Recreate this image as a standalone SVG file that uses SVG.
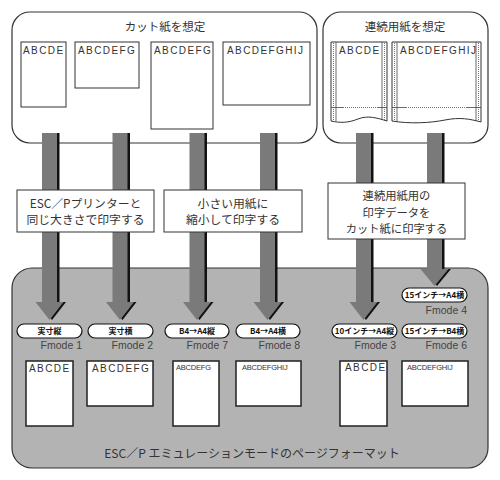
<svg xmlns="http://www.w3.org/2000/svg" width="500" height="480" viewBox="0 0 500 480">
<defs>
<style>
.frame{fill:#fff;stroke:#333;stroke-width:1.2}
.paper{fill:#fff;stroke:#333;stroke-width:1}
.bpaper{fill:#fff;stroke:#222;stroke-width:1.5}
.abc{font-family:"Liberation Sans",Arial,sans-serif;font-size:10px;fill:#333;letter-spacing:1.4px}
.abcs{font-family:"Liberation Sans",Arial,sans-serif;font-size:7.5px;fill:#333;letter-spacing:-0.2px}
.jp{font-family:"Noto Sans CJK JP","Noto Sans",sans-serif;fill:#333}
.title{font-size:11.5px;text-anchor:middle}
.lbl{font-size:11.8px;text-anchor:middle}
.pill{fill:#fff;stroke:#111;stroke-width:1.2}
.pt{font-family:"Noto Sans CJK JP","Noto Sans",sans-serif;font-size:8px;font-weight:bold;fill:#111;text-anchor:middle}
.fm{font-family:"Liberation Sans",Arial,sans-serif;font-size:10.5px;fill:#444;text-anchor:end}
.shaft{fill:#7a7a7a}
.shadow{fill:#111}
.perf{stroke:#555;stroke-width:0.8;stroke-dasharray:1 1;fill:none}
.ln{stroke:#444;stroke-width:0.8;fill:none}
</style>
</defs>

<g id="cut-paper-group">
<rect class="frame" x="12" y="12" width="305" height="131" rx="18"/>
<text class="jp title" x="165" y="31">カット紙を想定</text>
<rect class="paper" x="21" y="42" width="45" height="65"/>
<text class="abc" x="23" y="53.5">ABCDE</text>
<rect class="paper" x="75" y="42" width="64" height="46"/>
<text class="abc" x="78" y="53.5">ABCDEFG</text>
<rect class="paper" x="151" y="42" width="62" height="87"/>
<text class="abc" x="154" y="53.5">ABCDEFG</text>
<rect class="paper" x="223" y="42" width="87" height="63"/>
<text class="abc" x="227" y="53.5" letter-spacing="0.6">ABCDEFGHIJ</text>
</g>

<g id="continuous-paper-group">
<rect class="frame" x="323" y="12" width="165" height="131" rx="18"/>
<text class="jp title" x="405" y="31">連続用紙を想定</text>
<path class="paper" d="M331,42 H387 V121 C377,118 368,115 358,119 C348,123 340,123 331,121 Z"/>
<line class="perf" x1="333.5" y1="43" x2="333.5" y2="121"/>
<line class="ln" x1="336" y1="42" x2="336" y2="121"/>
<line class="perf" x1="384.5" y1="43" x2="384.5" y2="120"/>
<line class="ln" x1="382" y1="42" x2="382" y2="119"/>
<line class="ln" x1="331" y1="107.5" x2="343" y2="107.5"/>
<line class="perf" x1="343" y1="107.5" x2="378" y2="107.5"/>
<line class="ln" x1="378" y1="107.5" x2="387" y2="107.5"/>
<text class="abc" x="339" y="53.5" letter-spacing="1">ABCDE</text>
<path class="paper" d="M392,42 H481 V122 C470,119 460,117 445,120 C430,123 410,124 392,121 Z"/>
<line class="perf" x1="394.5" y1="43" x2="394.5" y2="121"/>
<line class="ln" x1="397" y1="42" x2="397" y2="121"/>
<line class="perf" x1="478.5" y1="43" x2="478.5" y2="121"/>
<line class="ln" x1="476" y1="42" x2="476" y2="121"/>
<line class="ln" x1="392" y1="107.5" x2="406" y2="107.5"/>
<line class="perf" x1="406" y1="107.5" x2="466" y2="107.5"/>
<line class="ln" x1="466" y1="107.5" x2="481" y2="107.5"/>
<text class="abc" x="400" y="53.5" letter-spacing="0.4">ABCDEFGHIJ</text>
</g>

<g id="emulation-box">
<rect x="12" y="268" width="476" height="200" rx="20" fill="#b3b3b3" stroke="#333" stroke-width="1.2"/>
<text class="jp" x="252" y="458" font-size="12" text-anchor="middle">ESC／P エミュレーションモードのページフォーマット</text>
</g>

<g id="connectors">
<g transform="translate(49.5,0)">
<path class="shadow" transform="translate(2.5,0)" d="M-7.5,133 H7.5 V302 H14 L0,320 L-14,302 H-7.5 Z"/>
<path class="shaft" d="M-7.5,133 H7.5 V302 H14 L0,320 L-14,302 H-7.5 Z"/>
</g>
<g transform="translate(120,0)">
<path class="shadow" transform="translate(2.5,0)" d="M-7.5,133 H7.5 V302 H14 L0,320 L-14,302 H-7.5 Z"/>
<path class="shaft" d="M-7.5,133 H7.5 V302 H14 L0,320 L-14,302 H-7.5 Z"/>
</g>
<g transform="translate(197,0)">
<path class="shadow" transform="translate(2.5,0)" d="M-7.5,133 H7.5 V302 H14 L0,320 L-14,302 H-7.5 Z"/>
<path class="shaft" d="M-7.5,133 H7.5 V302 H14 L0,320 L-14,302 H-7.5 Z"/>
</g>
<g transform="translate(267.5,0)">
<path class="shadow" transform="translate(2.5,0)" d="M-7.5,133 H7.5 V302 H14 L0,320 L-14,302 H-7.5 Z"/>
<path class="shaft" d="M-7.5,133 H7.5 V302 H14 L0,320 L-14,302 H-7.5 Z"/>
</g>
<g transform="translate(363.5,0)">
<path class="shadow" transform="translate(2.5,0)" d="M-7.5,133 H7.5 V302 H14 L0,320 L-14,302 H-7.5 Z"/>
<path class="shaft" d="M-7.5,133 H7.5 V302 H14 L0,320 L-14,302 H-7.5 Z"/>
</g>
<g transform="translate(434.5,0)">
<path class="shadow" transform="translate(2.5,0)" d="M-7.5,133 H7.5 V269 H14 L0,286 L-14,269 H-7.5 Z"/>
<path class="shaft" d="M-7.5,133 H7.5 V269 H14 L0,286 L-14,269 H-7.5 Z"/>
</g>
</g>

<g id="label-same-size">
<rect class="paper" x="17" y="190" width="137" height="42"/>
<text class="jp lbl" x="85.5" y="208">ESC／Pプリンターと</text>
<text class="jp lbl" x="85.5" y="224">同じ大きさで印字する</text>
</g>
<g id="label-reduce">
<rect class="paper" x="164" y="190" width="138" height="42"/>
<text class="jp lbl" x="233" y="208">小さい用紙に</text>
<text class="jp lbl" x="233" y="224">縮小して印字する</text>
</g>
<g id="label-continuous">
<rect class="paper" x="328" y="183" width="137" height="56"/>
<text class="jp" x="396.5" y="200" font-size="11.3" text-anchor="middle">連続用紙用の</text>
<text class="jp" x="396.5" y="216.5" font-size="11.3" text-anchor="middle">印字データを</text>
<text class="jp" x="396.5" y="233" font-size="11.3" text-anchor="middle">カット紙に印字する</text>
</g>

<g id="mode1">
<rect class="pill" x="17" y="324" width="65" height="14" rx="7"/>
<text class="pt" x="49.5" y="334">実寸縦</text>
<text class="fm" x="82" y="349">Fmode 1</text>
<rect class="bpaper" x="26" y="361" width="47" height="65"/>
<text class="abc" x="29" y="371.5">ABCDE</text>
</g>
<g id="mode2">
<rect class="pill" x="88" y="324" width="65" height="14" rx="7"/>
<text class="pt" x="120.5" y="334">実寸横</text>
<text class="fm" x="153" y="349">Fmode 2</text>
<rect class="bpaper" x="87" y="361" width="66" height="45"/>
<text class="abc" x="92" y="371.5">ABCDEFG</text>
</g>
<g id="mode7">
<rect class="pill" x="165" y="324" width="64" height="14" rx="7"/>
<text class="pt" x="197" y="334">B4→A4縦</text>
<text class="fm" x="228" y="349">Fmode 7</text>
<rect class="bpaper" x="173" y="361" width="46" height="65"/>
<text class="abcs" x="176" y="370">ABCDEFG</text>
</g>
<g id="mode8">
<rect class="pill" x="236" y="324" width="64" height="14" rx="7"/>
<text class="pt" x="268" y="334">B4→A4横</text>
<text class="fm" x="300" y="349">Fmode 8</text>
<rect class="bpaper" x="236" y="361" width="65" height="45"/>
<text class="abcs" x="242" y="370">ABCDEFGHIJ</text>
</g>
<g id="mode3">
<rect class="pill" x="332" y="324" width="65" height="14" rx="7"/>
<text class="pt" x="364.5" y="334">10インチ→A4縦</text>
<text class="fm" x="396" y="349">Fmode 3</text>
<rect class="bpaper" x="340" y="361" width="47" height="65"/>
<text class="abc" x="345" y="371" font-size="8.5">ABCDE</text>
</g>
<g id="mode4">
<rect class="pill" x="402" y="288" width="65" height="14" rx="7"/>
<text class="pt" x="434.5" y="298">15インチ→A4横</text>
<text class="fm" x="467" y="314">Fmode 4</text>
</g>
<g id="mode6">
<rect class="pill" x="402" y="324" width="65" height="14" rx="7"/>
<text class="pt" x="434.5" y="334">15インチ→B4横</text>
<text class="fm" x="467" y="349">Fmode 6</text>
<rect class="bpaper" x="402" y="361" width="66" height="45"/>
<text class="abcs" x="407" y="370">ABCDEFGHIJ</text>
</g>
</svg>
